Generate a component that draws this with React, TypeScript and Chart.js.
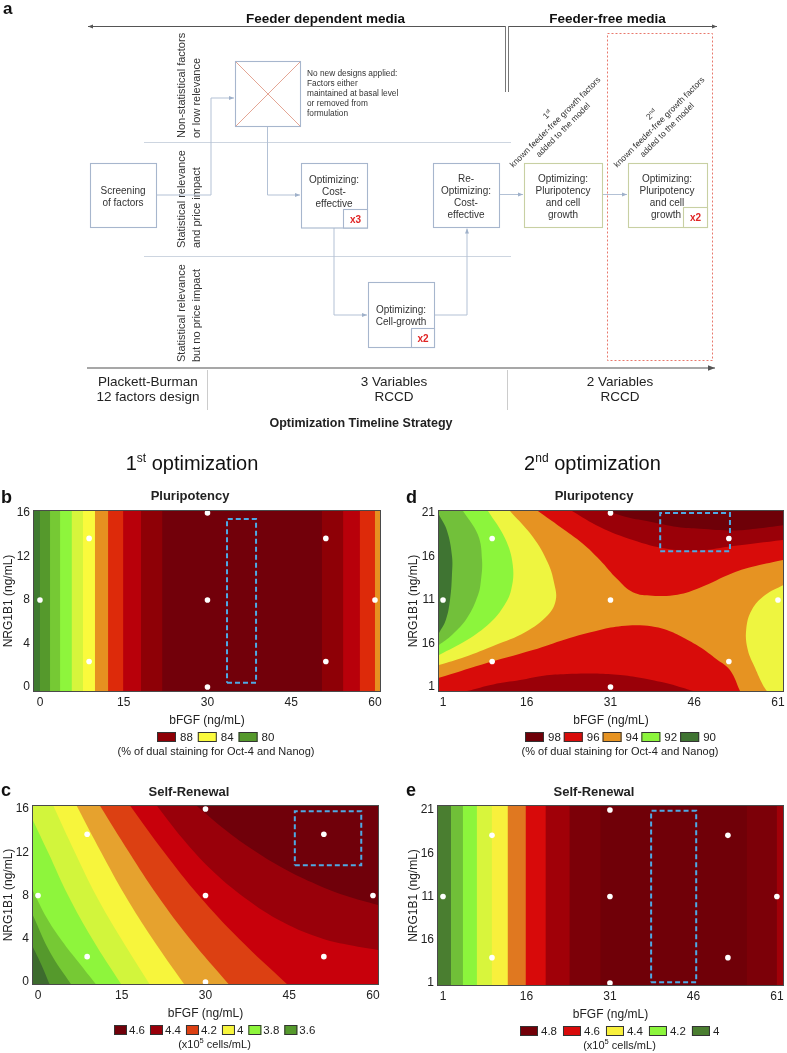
import React, { useEffect, useRef } from "react";
import { Chart, registerables } from "chart.js";

Chart.register(...registerables);

const FONT = "'Liberation Sans', Arial, Helvetica, sans-serif";
const INK = "#222222";
Chart.defaults.font.family = FONT;
Chart.defaults.color = INK;

type Pt = [number, number];

/* ---------------- axes ---------------- */
const bfgfTicks1 = [0, 15, 30, 45, 60];
const nrgTicks1 = [0, 4, 8, 12, 16];
const nrgLabels1 = ["0", "4", "8", "12", "16"];
const bfgfTicks2 = [1, 16, 31, 46, 61];
const nrgTicks2 = [1, 6, 11, 16, 21];
const nrgLabels2 = ["1", "16", "11", "16", "21"]; // as printed in the source figure

/* ---------------- experimental design points ---------------- */
const design1X = [0, 8.8, 8.8, 30, 30, 30, 51.2, 51.2, 60];
const design1Y = [8, 13.66, 2.34, 16, 8, 0, 13.66, 2.34, 8];
const design2X = [1, 9.8, 9.8, 31, 31, 31, 52.2, 52.2, 61];
const design2Y = [11, 18.07, 3.93, 21, 11, 1, 18.07, 3.93, 11];

/* ---------------- b: 1st optimization, pluripotency ---------------- */
const bBandStart = [-1.07, 0, 1.8, 3.6, 5.7, 7.7, 9.85, 12.2, 14.9, 18.1, 21.9, 50.5, 54.3, 57.3, 60];
const bBandColor = ["#3f7a30", "#55992c", "#76c934", "#8ef53c", "#d6f53c", "#fafa3c", "#e69020", "#dd2a0a", "#b8000a", "#8e0006", "#72000a", "#8e0006", "#b8000a", "#dd2a0a", "#e69020"];
const bOptimum = [33.5, 38.7, 0.4, 15.45];
const bLegend = ["88", "84", "80"];
const bLegendColor = ["#8e0006", "#fafa3c", "#55992c"];

/* ---------------- c: 1st optimization, self-renewal ---------------- */
const c36: Pt[] = [[-0.95, 3.27], [0.6, 1.6], [2.15, -0.3]];
const c37: Pt[] = [[-0.95, 6.2], [2.2, 2.7], [6.03, -0.3]];
const c38: Pt[] = [[-0.95, 8.5], [1.6, 5.9], [4.3, 3.8], [7.3, 1.8], [10.5, -0.3]];
const c39: Pt[] = [[-0.95, 15.0], [1.8, 12], [5.4, 8], [9.7, 4], [15.0, -0.3]];
const c40: Pt[] = [[2.74, 16.3], [6.6, 12], [10.4, 8], [14.9, 4], [20.1, -0.3]];
const c41: Pt[] = [[6.93, 16.3], [11.3, 12], [15.6, 8], [20.5, 4], [26.3, -0.3]];
const c42: Pt[] = [[11.1, 16.3], [16.3, 12], [21.4, 8], [27.2, 4], [34.3, -0.3]];
const c43: Pt[] = [[16.5, 16.3], [22.6, 12], [28.8, 8], [36, 4], [44.8, -0.3]];
const c44: Pt[] = [[21.3, 16.3], [26, 13.2], [31, 10.4], [37, 7.8], [44, 5.5], [51, 4], [56, 3.4], [60.9, 2.96]];
const c45: Pt[] = [[28.4, 16.3], [33, 14.3], [38, 12.4], [44, 10.5], [50, 9], [55, 8], [60.9, 7.12]];
const cLevelColor = ["#3d6b2e", "#55992c", "#76c934", "#8ef53c", "#d2f53c", "#f7f53c", "#e6a22e", "#dc4012", "#c8000b", "#99000a", "#70000a"];
const cOptimum = [46.0, 57.9, 10.8, 15.8];
const cLegend = ["4.6", "4.4", "4.2", "4", "3.8", "3.6"];
const cLegendColor = ["#70000a", "#99000a", "#dc4012", "#f7f53c", "#8ef53c", "#55992c"];

/* ---------------- d: 2nd optimization, pluripotency ---------------- */
const d93Left: Pt[] = [[13.0, 21.23], [17.1, 18.24], [19.8, 15.25], [20.9, 12.95], [21.2, 11.0], [19.8, 9.28], [15.7, 7.3], [10.3, 5.8], [4.9, 4.45], [0.28, 3.53]];
const d92Left: Pt[] = [[9.06, 21.23], [12.1, 18.1], [13.5, 15.0], [13.2, 12.15], [11.7, 10.1], [9.4, 8.36], [5.3, 6.4], [0.28, 4.68]];
const d91Left: Pt[] = [[4.58, 21.23], [7.27, 18.47], [7.99, 15.6], [7.8, 13.3], [7.27, 11.57], [5.3, 8.93], [2.6, 6.98], [0.28, 5.83]];
const d90Left: Pt[] = [[0.28, 20.8], [1.7, 19.0], [2.6, 16.1], [2.6, 13.9], [2.25, 11.0], [1.5, 8.7], [0.28, 7.2]];
const d93Right: Pt[] = [[61.9, 12.7], [58.7, 11.57], [56.3, 9.85], [55.3, 7.55], [55.6, 5.25], [56.9, 3.18], [58.3, 1.23], [59.0, 0.54]];
const d95Top: Pt[] = [[18.0, 21.23], [22, 19.4], [26, 17.5], [29.1, 15.6], [32.2, 13.4], [35, 11.9], [38.5, 11.5], [43, 11.6], [47, 12.4], [52.9, 14.1], [57, 14.9], [61.9, 15.6]];
const d97Top: Pt[] = [[24.1, 21.23], [29.1, 19.4], [35.0, 17.9], [41.1, 16.9], [47.0, 16.7], [52.9, 17.2], [61.9, 17.9]];
const d98Top: Pt[] = [[30.4, 21.23], [34, 20.5], [38.1, 20.0], [43, 19.4], [47.0, 19.2], [52.9, 19.0], [57, 19.2], [61.9, 19.6]];
const d95Bottom: Pt[] = [[0.28, 2.05], [8, 3.6], [17.1, 5.25], [23, 6.5], [29.1, 7.55], [33, 8.0], [36.3, 8.1], [39, 7.9], [41.1, 7.55], [44, 6.7], [47.0, 5.6], [50, 4.2], [52.4, 2.95], [54.2, 0.54]];
const d97Bottom: Pt[] = [[5.3, 0.54], [10, 1.3], [14.8, 1.8], [19, 2.3], [23.2, 2.5], [28, 2.55], [32.2, 2.4], [36, 2.1], [39.9, 1.6], [43, 1.1], [45.8, 0.54]];
const dColor = { orange: "#e69322", yellow: "#eef540", bright: "#8cf53c", green: "#72c03a", dark: "#3f7432", red: "#d80c0a", dred: "#9a0008", darkest: "#6e0008" };
const dOptimum = [39.9, 52.4, 16.6, 21.0];
const dLegend = ["98", "96", "94", "92", "90"];
const dLegendColor = ["#6e0008", "#d80c0a", "#e69322", "#8cf53c", "#3f7432"];

/* ---------------- e: 2nd optimization, self-renewal ---------------- */
const eBandStart = [0.1, 2.43, 4.58, 7.09, 9.78, 12.64, 15.87, 19.45, 23.75, 29.3, 55.6, 61.0];
const eBandColor = ["#4a7e30", "#70c038", "#8cf53c", "#d8f53c", "#f8f03c", "#e07820", "#d80a0a", "#a00008", "#7c0008", "#700008", "#7c0008", "#a00008"];
const eOptimum = [38.4, 46.5, 1.1, 20.9];
const eLegend = ["4.8", "4.6", "4.4", "4.2", "4"];
const eLegendColor = ["#720008", "#d80a0a", "#f8f03c", "#8cf53c", "#4a7e30"];

/* ---------------- helpers ---------------- */
interface Region { pts: Pt[]; color: string; tension: number; }
interface Far { L: number; R: number; B: number; T: number; }

function farBox(xr: number[], yr: number[]): Far {
  return { L: xr[0] - 30, R: xr[1] + 30, B: yr[0] - 30, T: yr[1] + 30 };
}

function bands(starts: number[], colors: string[], f: Far): Region[] {
  return starts.map((x0, i) => {
    const xa = i === 0 ? f.L : x0;
    return { pts: [[xa, f.B], [f.R, f.B], [f.R, f.T], [xa, f.T], [xa, f.B]] as Pt[], color: colors[i], tension: 0 };
  });
}

function stretch(p: Pt, q: Pt): Pt {
  const dx = p[0] - q[0], dy = p[1] - q[1];
  const len = Math.hypot(dx, dy) || 1;
  return [p[0] + (dx / len) * 3, p[1] + (dy / len) * 3];
}

function area(curve: Pt[], corners: string[], color: string, f: Far): Region {
  const n = curve.length;
  const s = stretch(curve[0], curve[1]);
  const e = stretch(curve[n - 1], curve[n - 2]);
  const cm: Record<string, Pt> = { TL: [f.L, f.T], TR: [f.R, f.T], BL: [f.L, f.B], BR: [f.R, f.B] };
  return { pts: [s, ...curve, e, ...corners.map((c) => cm[c]), s], color, tension: 0.4 };
}

interface Spec {
  title: string;
  xRange: number[]; yRange: number[];
  xTicks: number[]; yTicks: number[]; yLabels: string[];
  axisW: number; padRight: number; titlePad: number[]; padBottom: number;
  regions: Region[]; optimum: number[]; designX: number[]; designY: number[];
  legend: string[]; legendColor: string[]; legendBox: number[]; unit: string;
}

const xrB = [-1.07, 60.9], yrB = [-0.37, 16.18];
const xrC = [-0.9, 60.9], yrC = [-0.19, 16.28];
const xrD = [0.28, 61.9], yrD = [0.54, 21.23];
const xrE = [0.1, 62.1], yrE = [0.77, 21.46];

const fB = farBox(xrB, yrB), fC = farBox(xrC, yrC), fD = farBox(xrD, yrD), fE = farBox(xrE, yrE);

const panelB: Spec = {
  title: "Pluripotency", xRange: xrB, yRange: yrB, xTicks: bfgfTicks1, yTicks: nrgTicks1, yLabels: nrgLabels1,
  axisW: 34, padRight: 20, titlePad: [12.7, 6.7], padBottom: 38,
  regions: bands(bBandStart, bBandColor, fB), optimum: bOptimum, designX: design1X, designY: design1Y,
  legend: bLegend, legendColor: bLegendColor, legendBox: [19, 4, 5], unit: "pct",
};

const cCurves = [c36, c37, c38, c39, c40, c41, c42, c43, c44, c45];
const cCorners = [["BR", "TR", "TL"], ["BR", "TR", "TL"], ["BR", "TR", "TL"], ["BR", "TR", "TL"], ["BR", "TR"], ["BR", "TR"], ["BR", "TR"], ["BR", "TR"], ["TR"], ["TR"]];
const panelC: Spec = {
  title: "Self-Renewal", xRange: xrC, yRange: yrC, xTicks: bfgfTicks1, yTicks: nrgTicks1, yLabels: nrgLabels1,
  axisW: 33, padRight: 22, titlePad: [12.7, 5.7], padBottom: 32,
  regions: [bands([0], [cLevelColor[0]], fC)[0], ...cCurves.map((c, i) => area(c, cCorners[i], cLevelColor[i + 1], fC))],
  optimum: cOptimum, designX: design1X, designY: design1Y,
  legend: cLegend, legendColor: cLegendColor, legendBox: [13, 2, 5], unit: "cells",
};

const panelD: Spec = {
  title: "Pluripotency", xRange: xrD, yRange: yrD, xTicks: bfgfTicks2, yTicks: nrgTicks2, yLabels: nrgLabels2,
  axisW: 34, padRight: 22, titlePad: [12.7, 6.7], padBottom: 38,
  regions: [
    bands([0], [dColor.orange], fD)[0],
    area(d93Left, ["TL"], dColor.yellow, fD),
    area(d92Left, ["TL"], dColor.bright, fD),
    area(d91Left, ["TL"], dColor.green, fD),
    area(d90Left, [], dColor.dark, fD),
    area(d93Right, ["BR"], dColor.yellow, fD),
    area(d95Top, ["TR"], dColor.red, fD),
    area(d97Top, ["TR"], dColor.dred, fD),
    area(d98Top, ["TR"], dColor.darkest, fD),
    area(d95Bottom, ["BL"], dColor.red, fD),
    area(d97Bottom, [], dColor.dred, fD),
  ],
  optimum: dOptimum, designX: design2X, designY: design2Y,
  legend: dLegend, legendColor: dLegendColor, legendBox: [19, 4, 3], unit: "pct",
};

const panelE: Spec = {
  title: "Self-Renewal", xRange: xrE, yRange: yrE, xTicks: bfgfTicks2, yTicks: nrgTicks2, yLabels: nrgLabels2,
  axisW: 33, padRight: 22, titlePad: [12.7, 5.7], padBottom: 31,
  regions: bands(eBandStart, eBandColor, fE), optimum: eOptimum, designX: design2X, designY: design2Y,
  legend: eLegend, legendColor: eLegendColor, legendBox: [18, 3, 6], unit: "cells",
};

function overlay(p: Spec) {
  return {
    id: "panelOverlay",
    afterDraw(chart: any) {
      const { ctx, chartArea: a } = chart;
      ctx.save();
      ctx.strokeStyle = "#4a4a4a";
      ctx.lineWidth = 1;
      ctx.strokeRect(Math.round(a.left) - 0.5, Math.round(a.top) - 0.5, Math.round(a.right - a.left) + 1, Math.round(a.bottom - a.top) + 1);

      const cx = (a.left + a.right) / 2 + 9;
      const [bw, g1, g2] = p.legendBox;
      ctx.font = `11.5px ${FONT}`;
      const ws = p.legend.map((l) => ctx.measureText(l).width);
      const total = ws.reduce((s, w) => s + bw + g1 + w, 0) + g2 * (ws.length - 1);
      let x = Math.round(cx - total / 2);
      const yc = Math.round(a.bottom + 46);
      ctx.textBaseline = "middle";
      ctx.textAlign = "left";
      p.legend.forEach((lab, i) => {
        ctx.fillStyle = p.legendColor[i];
        ctx.fillRect(x, yc - 5, bw, 10);
        ctx.strokeStyle = "#333";
        ctx.strokeRect(x + 0.5, yc - 4.5, bw - 1, 9);
        ctx.fillStyle = INK;
        ctx.fillText(lab, x + bw + g1, yc + 0.5);
        x += bw + g1 + ws[i] + g2;
      });

      const uy = a.bottom + 60.5;
      ctx.font = `11px ${FONT}`;
      if (p.unit === "pct") {
        const t = "(% of dual staining for Oct-4 and Nanog)";
        const w = ctx.measureText(t).width;
        ctx.fillText(t, cx - w / 2, uy);
      } else {
        const t1 = "(x10", t2 = "5", t3 = " cells/mL)";
        const w1 = ctx.measureText(t1).width, w3 = ctx.measureText(t3).width;
        ctx.font = `7.5px ${FONT}`;
        const w2 = ctx.measureText(t2).width;
        let ux = cx - (w1 + w2 + w3) / 2;
        ctx.font = `11px ${FONT}`;
        ctx.fillText(t1, ux, uy);
        ux += w1;
        ctx.font = `7.5px ${FONT}`;
        ctx.fillText(t2, ux, uy - 4);
        ux += w2;
        ctx.font = `11px ${FONT}`;
        ctx.fillText(t3, ux, uy);
      }
      ctx.restore();
    },
  };
}

function buildConfig(p: Spec): any {
  const datasets: any[] = p.regions.map((r) => ({
    data: r.pts.map(([x, y]) => ({ x, y })),
    backgroundColor: r.color,
    borderColor: r.color,
    borderWidth: 0,
    pointRadius: 0,
    fill: "shape",
    tension: r.tension,
  }));
  const [ox0, ox1, oy0, oy1] = p.optimum;
  datasets.push({
    data: [[ox0, oy0], [ox1, oy0], [ox1, oy1], [ox0, oy1], [ox0, oy0]].map(([x, y]) => ({ x, y })),
    borderColor: "#4ea9e4",
    borderWidth: 2,
    borderDash: [5, 3],
    fill: false,
    pointRadius: 0,
    tension: 0,
  });
  datasets.push({
    data: p.designX.map((x, i) => ({ x, y: p.designY[i] })),
    showLine: false,
    pointRadius: 2.8,
    pointBackgroundColor: "#ffffff",
    pointBorderWidth: 0,
    borderWidth: 0,
    fill: false,
  });
  const n = datasets.length;
  datasets.forEach((d, i) => { d.order = n - i; });

  return {
    type: "line",
    data: { datasets },
    options: {
      animation: false,
      responsive: false,
      maintainAspectRatio: false,
      devicePixelRatio: 1,
      events: [],
      layout: { padding: { top: 0, left: 0, right: p.padRight, bottom: p.padBottom } },
      elements: { line: { capBezierPoints: false } },
      plugins: {
        legend: { display: false },
        tooltip: { enabled: false },
        title: {
          display: true,
          text: p.title,
          color: INK,
          font: { size: 13, weight: "bold", family: FONT },
          padding: { top: p.titlePad[0], bottom: p.titlePad[1] },
        },
      },
      scales: {
        x: {
          type: "linear",
          min: p.xRange[0],
          max: p.xRange[1],
          grid: { display: false, drawTicks: false },
          border: { display: false },
          ticks: { padding: 4, autoSkip: false, maxRotation: 0, color: INK, font: { size: 12, family: FONT }, callback: (v: number) => String(v) },
          title: { display: true, text: "bFGF (ng/mL)", color: INK, font: { size: 12, family: FONT }, padding: { top: 0, bottom: 0 } },
          afterBuildTicks: (s: any) => { s.ticks = p.xTicks.map((v) => ({ value: v })); },
          afterFit: (s: any) => { s.height = 37; },
        },
        y: {
          type: "linear",
          min: p.yRange[0],
          max: p.yRange[1],
          grid: { display: false, drawTicks: false },
          border: { display: false },
          ticks: { padding: 4, autoSkip: false, color: INK, font: { size: 12, family: FONT }, callback: (_v: number, i: number) => p.yLabels[i] },
          title: { display: true, text: "NRG1B1 (ng/mL)", color: INK, font: { size: 12, family: FONT }, padding: { top: 1, bottom: 0 } },
          afterBuildTicks: (s: any) => { s.ticks = p.yTicks.map((v) => ({ value: v })); },
          afterFit: (s: any) => { s.width = p.axisW; },
        },
      },
    },
    plugins: [overlay(p)],
  };
}

function ContourCanvas({ spec, left, top, width, height }: { spec: Spec; left: number; top: number; width: number; height: number }) {
  const ref = useRef<HTMLCanvasElement | null>(null);
  useEffect(() => {
    if (!ref.current) return;
    const chart = new Chart(ref.current, buildConfig(spec));
    return () => chart.destroy();
  }, [spec]);
  return <canvas ref={ref} width={width} height={height} style={{ position: "absolute", left, top, width, height }} />;
}

function Diagram() {
  const box = { fill: "#fff", stroke: "#a7b6cd", strokeWidth: 1.1 };
  const gbox = { fill: "#fff", stroke: "#c8d0a3", strokeWidth: 1.1 };
  const link = { fill: "none", stroke: "#b3c1d5", strokeWidth: 1, markerEnd: "url(#ahBlue)" };
  const t10: any = { fontSize: 10, fill: "#333", textAnchor: "middle" };
  const red: any = { fontSize: 10, fill: "#e02424", fontWeight: "bold", textAnchor: "middle" };
  const rowLab: any = { fontSize: 11, fill: "#333" };
  const note: any = { fontSize: 8.3, fill: "#333" };
  const bottom: any = { fontSize: 13.5, fill: "#222", textAnchor: "middle" };
  return (
    <svg width={787} height={1053} style={{ position: "absolute", left: 0, top: 0, pointerEvents: "none" }} fontFamily={FONT}>
      <defs>
        <marker id="ahBlue" viewBox="0 0 6 6" refX="6" refY="3" markerWidth="5" markerHeight="5" orient="auto">
          <path d="M0,0.6 L6,3 L0,5.4 z" fill="#9fb1ca" />
        </marker>
        <marker id="ahDark" viewBox="0 0 6 6" refX="6" refY="3" markerWidth="5" markerHeight="5" orient="auto">
          <path d="M0,0.6 L6,3 L0,5.4 z" fill="#555" />
        </marker>
      </defs>

      {/* panel a */}
      <text x={3} y={14} fontSize={17} fontWeight="bold" fill="#111">a</text>
      <text x={325.5} y={23} fontSize={13.5} fontWeight="bold" fill="#111" textAnchor="middle">Feeder dependent media</text>
      <text x={607.5} y={23} fontSize={13.5} fontWeight="bold" fill="#111" textAnchor="middle">Feeder-free media</text>
      <line x1={505} y1={26.5} x2={88} y2={26.5} stroke="#555" strokeWidth={1} markerEnd="url(#ahDark)" />
      <line x1={508.5} y1={26.5} x2={717} y2={26.5} stroke="#555" strokeWidth={1} markerEnd="url(#ahDark)" />
      <line x1={505.5} y1={26} x2={505.5} y2={92} stroke="#777" strokeWidth={1} />
      <line x1={508.5} y1={26} x2={508.5} y2={92} stroke="#777" strokeWidth={1} />

      <line x1={144} y1={142.5} x2={511} y2={142.5} stroke="#cdd5e0" strokeWidth={1} />
      <line x1={144} y1={256.5} x2={511} y2={256.5} stroke="#cdd5e0" strokeWidth={1} />

      <rect x={607.5} y={33.5} width={105} height={327} fill="none" stroke="#e8786c" strokeWidth={1} strokeDasharray="2,2" />

      <text transform="translate(185,138) rotate(-90)" {...rowLab}>Non-statistical factors</text>
      <text transform="translate(200,138) rotate(-90)" {...rowLab}>or low relevance</text>
      <text transform="translate(185,248) rotate(-90)" {...rowLab}>Statistical relevance</text>
      <text transform="translate(200,248) rotate(-90)" {...rowLab}>and price impact</text>
      <text transform="translate(185,362) rotate(-90)" {...rowLab}>Statistical relevance</text>
      <text transform="translate(200,362) rotate(-90)" {...rowLab}>but no price impact</text>

      {/* connectors */}
      <polyline points="156,195 211,195 211,98 234,98" {...link} />
      <polyline points="267.5,126 267.5,195 300,195" {...link} />
      <polyline points="334,228 334,315 367,315" {...link} />
      <polyline points="434,315 467,315 467,228.5" {...link} />
      <line x1={499} y1={194.5} x2={523} y2={194.5} {...link} />
      <line x1={602} y1={194.5} x2={627} y2={194.5} {...link} />

      {/* boxes */}
      <rect x={90.5} y={163.5} width={66} height={64} {...box} />
      <text x={123} y={193.5} {...t10}>Screening</text>
      <text x={123} y={205.5} {...t10}>of factors</text>

      <rect x={235.5} y={61.5} width={65} height={65} {...box} />
      <line x1={236} y1={62} x2={300} y2={126} stroke="#e4a695" strokeWidth={1} />
      <line x1={300} y1={62} x2={236} y2={126} stroke="#e4a695" strokeWidth={1} />
      <text x={307} y={75.5} {...note}>No new designs applied:</text>
      <text x={307} y={85.5} {...note}>Factors either</text>
      <text x={307} y={95.5} {...note}>maintained at basal level</text>
      <text x={307} y={105.5} {...note}>or removed from</text>
      <text x={307} y={115.5} {...note}>formulation</text>

      <rect x={301.5} y={163.5} width={66} height={64.5} {...box} />
      <text x={334} y={183} {...t10}>Optimizing:</text>
      <text x={334} y={195} {...t10}>Cost-</text>
      <text x={334} y={207} {...t10}>effective</text>
      <rect x={343.5} y={209.5} width={24} height={18.5} {...box} />
      <text x={355.5} y={222.5} {...red}>x3</text>

      <rect x={368.5} y={282.5} width={66} height={65} {...box} />
      <text x={401} y={313} {...t10}>Optimizing:</text>
      <text x={401} y={325} {...t10}>Cell-growth</text>
      <rect x={411.5} y={328.5} width={23} height={19} {...box} />
      <text x={423} y={342} {...red}>x2</text>

      <rect x={433.5} y={163.5} width={66} height={64} {...box} />
      <text x={466} y={182} {...t10}>Re-</text>
      <text x={466} y={194} {...t10}>Optimizing:</text>
      <text x={466} y={206} {...t10}>Cost-</text>
      <text x={466} y={218} {...t10}>effective</text>

      <rect x={524.5} y={163.5} width={78} height={64} {...gbox} />
      <text x={563} y={182} {...t10}>Optimizing:</text>
      <text x={563} y={194} {...t10}>Pluripotency</text>
      <text x={563} y={206} {...t10}>and cell</text>
      <text x={563} y={218} {...t10}>growth</text>

      <rect x={628.5} y={163.5} width={79} height={64} {...gbox} />
      <text x={667} y={182} {...t10}>Optimizing:</text>
      <text x={667} y={194} {...t10}>Pluripotency</text>
      <text x={667} y={206} {...t10}>and cell</text>
      <text x={666} y={218} {...t10}>growth</text>
      <rect x={683.5} y={207.5} width={24} height={20} {...gbox} />
      <text x={695.5} y={221} {...red}>x2</text>

      <g transform="translate(555,122) rotate(-45)" fontSize={8.5} fill="#333" textAnchor="middle">
        <text y={-8}>1<tspan fontSize={5.5} dy={-3}>st</tspan></text>
        <text y={3}>known feeder-free growth factors</text>
        <text y={14}>added to the model</text>
      </g>
      <g transform="translate(659,122) rotate(-45)" fontSize={8.5} fill="#333" textAnchor="middle">
        <text y={-8}>2<tspan fontSize={5.5} dy={-3}>nd</tspan></text>
        <text y={3}>known feeder-free growth factors</text>
        <text y={14}>added to the model</text>
      </g>

      {/* timeline axis */}
      <line x1={87} y1={368} x2={715} y2={368} stroke="#8a8a8a" strokeWidth={1.5} markerEnd="url(#ahDark)" />
      <line x1={207.5} y1={370} x2={207.5} y2={410} stroke="#cccccc" strokeWidth={1} />
      <line x1={507.5} y1={370} x2={507.5} y2={410} stroke="#cccccc" strokeWidth={1} />
      <text x={148} y={386} {...bottom}>Plackett-Burman</text>
      <text x={148} y={401} {...bottom}>12 factors design</text>
      <text x={394} y={386} {...bottom}>3 Variables</text>
      <text x={394} y={401} {...bottom}>RCCD</text>
      <text x={620} y={386} {...bottom}>2 Variables</text>
      <text x={620} y={401} {...bottom}>RCCD</text>
      <text x={361} y={427} fontSize={12.5} fontWeight="bold" fill="#222" textAnchor="middle">Optimization Timeline Strategy</text>

      {/* optimization headers */}
      <text x={192} y={470} fontSize={20} fill="#111" textAnchor="middle">1<tspan fontSize={12} dy={-8}>st</tspan><tspan dy={8}> optimization</tspan></text>
      <text x={592.5} y={470} fontSize={20} fill="#111" textAnchor="middle">2<tspan fontSize={12} dy={-8}>nd</tspan><tspan dy={8}> optimization</tspan></text>

      {/* panel letters */}
      <text x={1} y={503} fontSize={18} fontWeight="bold" fill="#111">b</text>
      <text x={1} y={796} fontSize={18} fontWeight="bold" fill="#111">c</text>
      <text x={406} y={503} fontSize={18} fontWeight="bold" fill="#111">d</text>
      <text x={406} y={796} fontSize={18} fontWeight="bold" fill="#111">e</text>
    </svg>
  );
}

export default function App() {
  return (
    <div style={{ position: "absolute", left: 0, top: 0, width: 787, height: 1053, background: "#ffffff", overflow: "hidden", fontFamily: FONT }}>
      <ContourCanvas spec={panelB} left={0} top={476} width={400} height={290} />
      <ContourCanvas spec={panelC} left={0} top={772} width={400} height={281} />
      <ContourCanvas spec={panelD} left={405} top={476} width={400} height={290} />
      <ContourCanvas spec={panelE} left={405} top={772} width={400} height={281} />
      <Diagram />
    </div>
  );
}
